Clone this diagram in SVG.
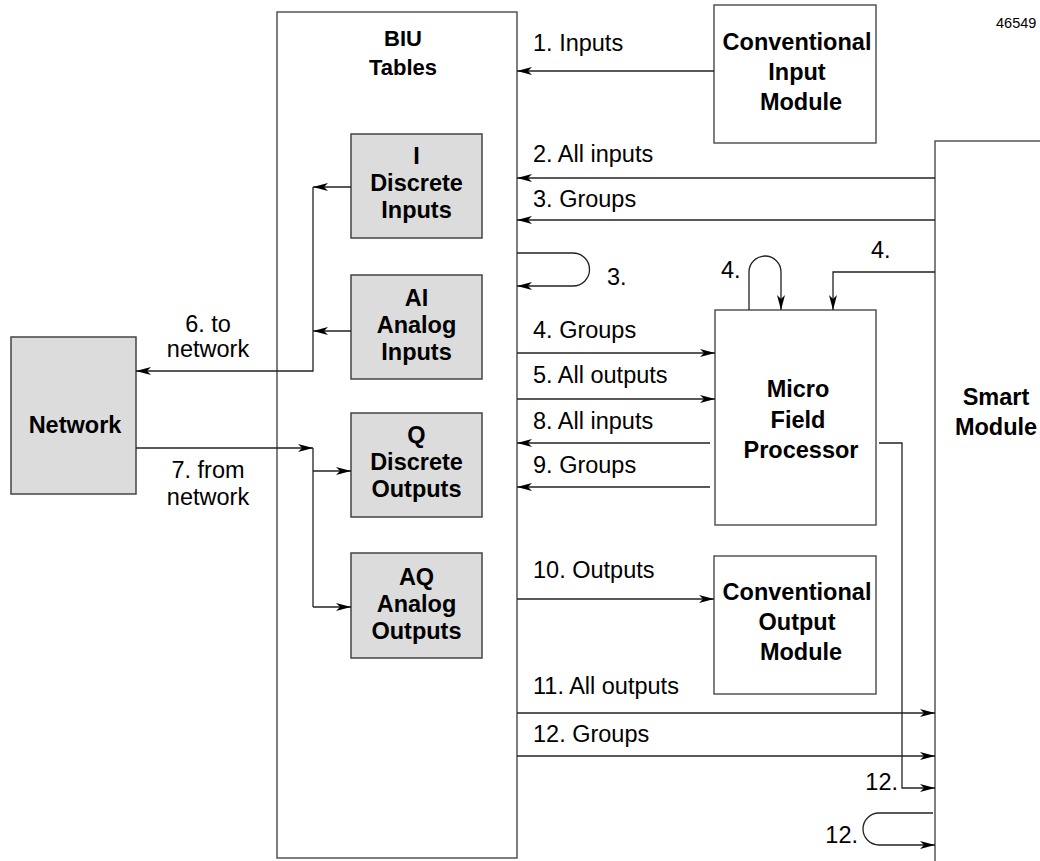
<svg xmlns="http://www.w3.org/2000/svg" width="1040" height="861" viewBox="0 0 1040 861">
<style>
text{font-family:"Liberation Sans",Arial,sans-serif;fill:#000}
.b{font-weight:bold;font-size:23.5px;text-anchor:middle}
.t{font-size:23.5px}
.box{fill:#fff;stroke:#555;stroke-width:1.5}
.g{fill:#dcdcdc;stroke:#444;stroke-width:1.5}
.c{fill:none;stroke:#222;stroke-width:1.3}
.a{marker-end:url(#ah)}
</style>
<defs>
<marker id="ah" markerUnits="userSpaceOnUse" markerWidth="16" markerHeight="10" refX="15" refY="4" orient="auto">
<path d="M0,0 L15,4 L0,8 L4,4 z" fill="#000"/>
</marker>
</defs>
<rect width="1040" height="861" fill="#fff"/>
<text x="996" y="28" style="font-size:14.5px">46549</text>
<g id="biu">
<rect class="box" x="277" y="12" width="240" height="846"/>
<text class="b" x="403" y="46" style="font-size:22px">BIU</text>
<text class="b" x="403" y="75" style="font-size:22px">Tables</text>
</g>
<g id="di">
<rect class="g" x="351" y="134" width="131" height="104"/>
<text class="b" x="416.5" y="164">I</text>
<text class="b" x="416.5" y="191">Discrete</text>
<text class="b" x="416.5" y="218">Inputs</text>
</g>
<g id="ai">
<rect class="g" x="351" y="275" width="131" height="104"/>
<text class="b" x="416.5" y="306">AI</text>
<text class="b" x="416.5" y="333">Analog</text>
<text class="b" x="416.5" y="360">Inputs</text>
</g>
<g id="dq">
<rect class="g" x="351" y="413" width="131" height="104"/>
<text class="b" x="416.5" y="443">Q</text>
<text class="b" x="416.5" y="470">Discrete</text>
<text class="b" x="416.5" y="497">Outputs</text>
</g>
<g id="aq">
<rect class="g" x="351" y="553" width="131" height="105"/>
<text class="b" x="416.5" y="585">AQ</text>
<text class="b" x="416.5" y="612">Analog</text>
<text class="b" x="416.5" y="639">Outputs</text>
</g>
<g id="network">
<rect class="g" x="11" y="337" width="125" height="157"/>
<text class="b" x="75" y="433">Network</text>
</g>
<g id="cim">
<rect class="box" x="714" y="5" width="162" height="138"/>
<text class="b" x="797" y="50">Conventional</text>
<text class="b" x="797" y="80">Input</text>
<text class="b" x="801" y="110">Module</text>
</g>
<g id="mfp">
<rect class="box" x="715" y="310" width="161" height="215"/>
<text class="b" x="798" y="397">Micro</text>
<text class="b" x="798" y="428">Field</text>
<text class="b" x="801" y="458">Processor</text>
</g>
<g id="com">
<rect class="box" x="714" y="556" width="162" height="138"/>
<text class="b" x="797" y="600">Conventional</text>
<text class="b" x="797" y="630">Output</text>
<text class="b" x="801" y="660">Module</text>
</g>
<g id="smart">
<path d="M1040,141 H935 V861" fill="none" stroke="#555" stroke-width="1.5"/>
<text class="b" x="996" y="405">Smart</text>
<text class="b" x="996" y="435">Module</text>
</g>
<g id="connectors">
<path class="c a" d="M714,71 H517"/>
<path class="c a" d="M935,178 H517"/>
<path class="c a" d="M935,220 H517"/>
<path class="c a" d="M517,253 H573 A16.5,16.5 0 0 1 573,286 H517"/>
<path class="c a" d="M749,310 V272 A16,16 0 0 1 781,272 V310"/>
<path class="c a" d="M935,272 H833 V310"/>
<path class="c a" d="M517,353 H715"/>
<path class="c a" d="M517,399 H715"/>
<path class="c a" d="M710,443 H517"/>
<path class="c a" d="M710,487 H517"/>
<path class="c a" d="M879,443 H902 V788 H935"/>
<path class="c a" d="M517,599 H714"/>
<path class="c a" d="M517,713 H935"/>
<path class="c a" d="M517,756 H935"/>
<path class="c a" d="M933,813 H879 A16,16 0 0 0 879,845 H935"/>
<path class="c a" d="M351,187 H313"/>
<path class="c a" d="M351,331 H313"/>
<path class="c a" d="M313,187 V371 H136"/>
<path class="c a" d="M136,448 H313"/>
<path class="c" d="M313,448 V607"/>
<path class="c a" d="M313,471 H351"/>
<path class="c a" d="M313,607 H351"/>
<text class="t" x="533" y="51">1. Inputs</text>
<text class="t" x="533" y="162">2. All inputs</text>
<text class="t" x="533" y="207">3. Groups</text>
<text class="t" x="607" y="285">3.</text>
<text class="t" x="721" y="278">4.</text>
<text class="t" x="871" y="258">4.</text>
<text class="t" x="533" y="338">4. Groups</text>
<text class="t" x="533" y="383">5. All outputs</text>
<text class="t" x="533" y="429">8. All inputs</text>
<text class="t" x="533" y="473">9. Groups</text>
<text class="t" x="533" y="578">10. Outputs</text>
<text class="t" x="533" y="694">11. All outputs</text>
<text class="t" x="533" y="742">12. Groups</text>
<text class="t" x="898" y="790" text-anchor="end">12.</text>
<text class="t" x="858" y="843" text-anchor="end">12.</text>
<text class="t" x="208" y="332" text-anchor="middle">6. to</text>
<text class="t" x="208" y="357" text-anchor="middle">network</text>
<text class="t" x="208" y="478" text-anchor="middle">7. from</text>
<text class="t" x="208" y="505" text-anchor="middle">network</text>
</g>
</svg>
